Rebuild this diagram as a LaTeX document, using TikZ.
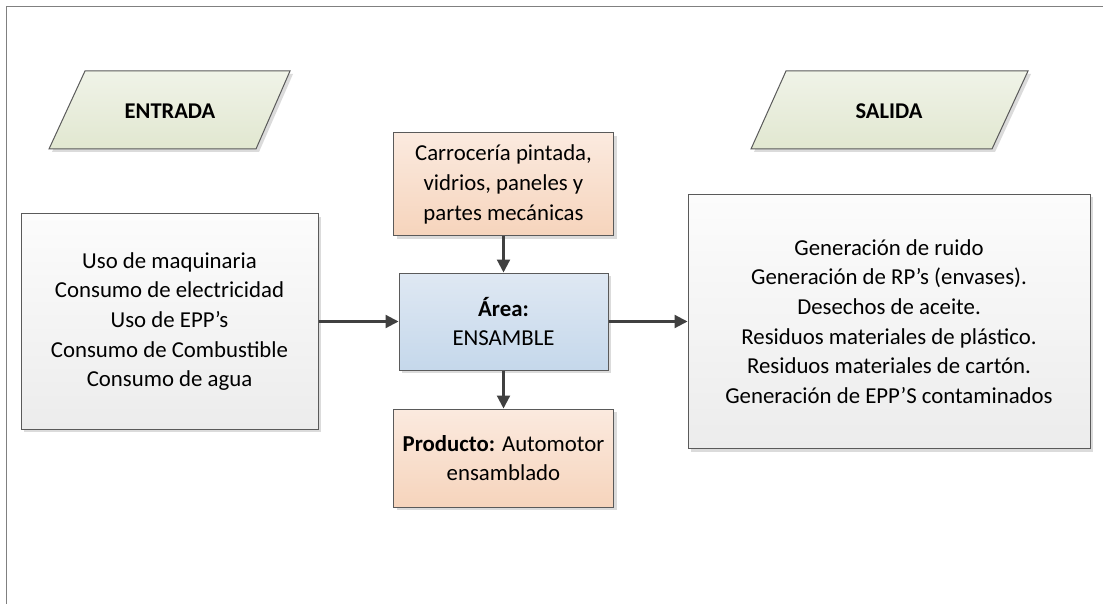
\documentclass[tikz,border=0pt]{standalone}
\usepackage{fontspec}
\setmainfont{Carlito}
\usetikzlibrary{arrows.meta,shadows}
\definecolor{edgecol}{HTML}{5A5A5A}
\definecolor{arrcol}{HTML}{404040}
\definecolor{framecol}{HTML}{808080}
\definecolor{greentop}{HTML}{F0F3E8}
\definecolor{greenbot}{HTML}{E1E7D0}
\definecolor{orangetop}{HTML}{FBEADF}
\definecolor{orangebot}{HTML}{F6D4BC}
\definecolor{bluetop}{HTML}{DFE8F3}
\definecolor{bluebot}{HTML}{C5D8EB}
\definecolor{graytop}{HTML}{FCFCFC}
\definecolor{graybot}{HTML}{ECECEC}
\begin{document}
\begin{tikzpicture}[x=1pt,y=-1pt,
  shadowed/.style={drop shadow={shadow xshift=3pt,shadow yshift=-3pt,fill=black!14,opacity=1}},
  box/.style={draw=edgecol,line width=1pt,align=center,inner sep=0pt,
    font=\fontsize{22.8}{29.6}\selectfont,shadowed},
  graybox/.style={box,shading=axis,top color=graytop,bottom color=graybot},
  orangebox/.style={box,shading=axis,top color=orangetop,bottom color=orangebot},
  bluebox/.style={box,shading=axis,top color=bluetop,bottom color=bluebot},
  para/.style={draw=edgecol,line width=1pt,shading=axis,top color=greentop,bottom color=greenbot,shadowed},
  title/.style={font=\fontsize{22.5}{26}\selectfont\bfseries},
  arrow/.style={draw=arrcol,line width=2.2pt,-{Triangle[length=13pt,width=13pt]}}
]
\useasboundingbox (0,0) rectangle (1103,604);
\fill[white] (0,0) rectangle (1103,604);
% frame
\draw[framecol,line width=1pt] (1103,7) -- (6,7) -- (6,604);

% input / output parallelograms
\path[para] (85,71) -- (290,71) -- (256,149) -- (49,149) -- cycle;
\node[title] (entrada) at (170,111) {ENTRADA};
\path[para] (786,71) -- (1028,71) -- (992,149) -- (751,149) -- cycle;
\node[title] (salida) at (889,111) {SALIDA};

% boxes
\node[graybox,minimum width=297pt,minimum height=215pt] (inbox) at (169.5,321.5)
  {Uso de maquinaria\\Consumo de electricidad\\Uso de EPP’s\\Consumo de Combustible\\Consumo de agua};
\node[orangebox,minimum width=220pt,minimum height=103pt] (carro) at (503.5,184.5)
  {Carrocería pintada,\\vidrios, paneles y\\partes mecánicas};
\node[bluebox,minimum width=209pt,minimum height=97pt] (area) at (503.5,321.5)
  {\textbf{Área:}\\ENSAMBLE};
\node[orangebox,minimum width=220pt,minimum height=98pt] (prod) at (503.5,458)
  {\textbf{Producto:} Automotor\\ensamblado};
\node[graybox,minimum width=402pt,minimum height=254pt] (outbox) at (889,321.5)
  {Generación de ruido\\Generación de RP’s (envases).\\Desechos de aceite.\\Residuos materiales de plástico.\\Residuos materiales de cartón.\\Generación de EPP’S contaminados};

% connectors
\draw[arrow] (inbox) -- (area);
\draw[arrow] (carro) -- (area);
\draw[arrow] (area) -- (prod);
\draw[arrow] (area) -- (outbox);
\end{tikzpicture}
\end{document}
